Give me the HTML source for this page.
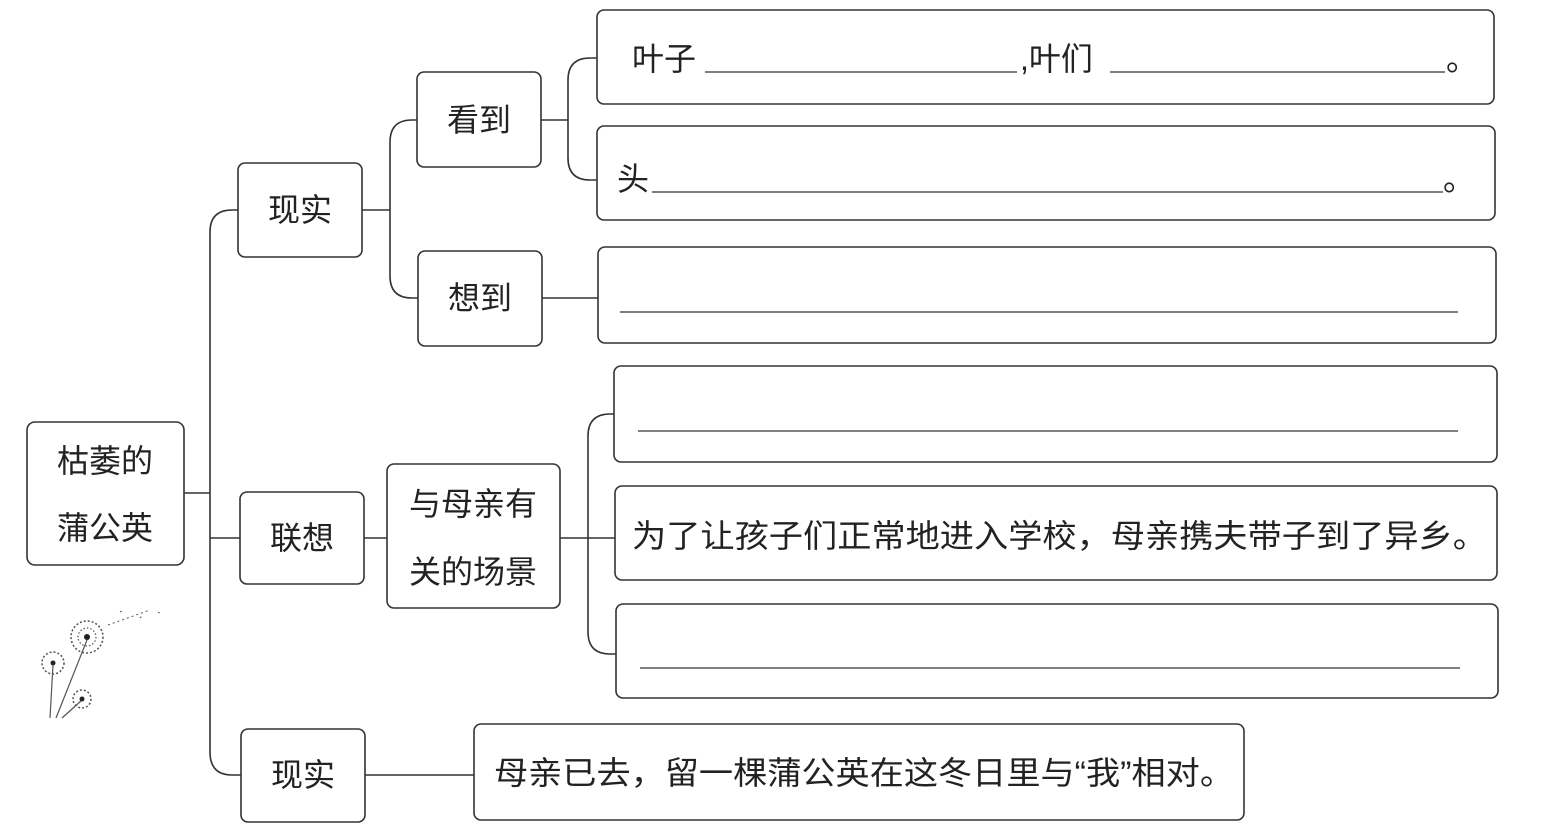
<!DOCTYPE html>
<html><head><meta charset="utf-8"><style>
html,body{margin:0;padding:0;background:#fff;}
svg{display:block;}
text{font-family:"Liberation Sans","Noto Sans CJK SC",sans-serif;fill:#222;font-size:32px;}
</style></head><body>
<svg width="1544" height="834" viewBox="0 0 1544 834" xmlns="http://www.w3.org/2000/svg">
<g fill="none" stroke="#333" stroke-width="1.6">
<rect x="27" y="422" width="157" height="143" rx="8"/>
<rect x="238" y="163" width="124" height="94" rx="7"/>
<rect x="240" y="492" width="124" height="92" rx="7"/>
<rect x="241" y="729" width="124" height="93" rx="7"/>
<rect x="417" y="72" width="124" height="95" rx="7"/>
<rect x="418" y="251" width="124" height="95" rx="7"/>
<rect x="387" y="464" width="173" height="144" rx="7"/>
<rect x="597" y="10" width="897" height="94" rx="7"/>
<rect x="597" y="126" width="898" height="94" rx="7"/>
<rect x="598" y="247" width="898" height="96" rx="7"/>
<rect x="614" y="366" width="883" height="96" rx="7"/>
<rect x="615" y="486" width="882" height="94" rx="7"/>
<rect x="616" y="604" width="882" height="94" rx="7"/>
<rect x="474" y="724" width="770" height="96" rx="7"/>
<!-- connectors -->
<path d="M184 493 H210"/>
<path d="M238 210 H232 Q210 210 210 232 V752 Q210 775 232 775 H241"/>
<path d="M210 538 H240"/>
<path d="M362 210 H390"/>
<path d="M417 120 H412 Q390 120 390 142 V276 Q390 298 412 298 H418"/>
<path d="M541 120 H568"/>
<path d="M597 58 H590 Q568 58 568 80 V158 Q568 180 590 180 H597"/>
<path d="M542 298 H598"/>
<path d="M364 538 H387"/>
<path d="M560 538 H615"/>
<path d="M614 414 H610 Q588 414 588 436 V632 Q588 654 610 654 H616"/>
<path d="M365 775 H474"/>
<!-- blanks -->
<path d="M705 72 H1017 M1110 72 H1445 M652 192 H1443 M620 312 H1458 M638 431 H1458 M640 668 H1460" stroke-width="1.3"/>
</g>
<text x="105" y="472" text-anchor="middle">枯萎的</text>
<text x="105" y="539" text-anchor="middle">蒲公英</text>
<text x="300" y="221" text-anchor="middle">现实</text>
<text x="302" y="549" text-anchor="middle">联想</text>
<text x="303" y="786" text-anchor="middle">现实</text>
<text x="479" y="131" text-anchor="middle">看到</text>
<text x="480" y="309" text-anchor="middle">想到</text>
<text x="473" y="515" text-anchor="middle">与母亲有</text>
<text x="473" y="583" text-anchor="middle">关的场景</text>
<text x="632" y="70">叶子</text>
<text x="1020" y="70">,叶们</text>
<text x="1446" y="70">。</text>
<text x="617" y="190">头</text>
<text x="1443" y="190">。</text>
<text x="632" y="547" textLength="855" lengthAdjust="spacingAndGlyphs">为了让孩子们正常地进入学校，母亲携夫带子到了异乡。</text>
<text x="494" y="784" textLength="740" lengthAdjust="spacingAndGlyphs">母亲已去，留一棵蒲公英在这冬日里与“我”相对。</text>
<!-- dandelions -->
<g stroke="#555" fill="none">
<path d="M87 640 L56 718" stroke-width="1.2"/>
<path d="M53 665 L50 718" stroke-width="1.2"/>
<path d="M82 700 L62 718" stroke-width="1.2"/>
<circle cx="87" cy="637" r="16" stroke-dasharray="2 2" stroke-width="1.5"/>
<circle cx="87" cy="637" r="9" stroke-dasharray="1.5 2" stroke-width="1.2"/>
<circle cx="53" cy="663" r="11" stroke-dasharray="2 2" stroke-width="1.5"/>
<circle cx="82" cy="699" r="9" stroke-dasharray="2 2" stroke-width="1.5"/>
<path d="M108 625 L150 610 M120 612 l4 -2 M140 618 l3 -3 M158 612 l3 2" stroke-dasharray="2 3" stroke-width="1"/>
</g>
<circle cx="87" cy="637" r="3" fill="#222"/>
<circle cx="53" cy="663" r="2.5" fill="#222"/>
<circle cx="82" cy="699" r="2.5" fill="#222"/>
</svg>
</body></html>
